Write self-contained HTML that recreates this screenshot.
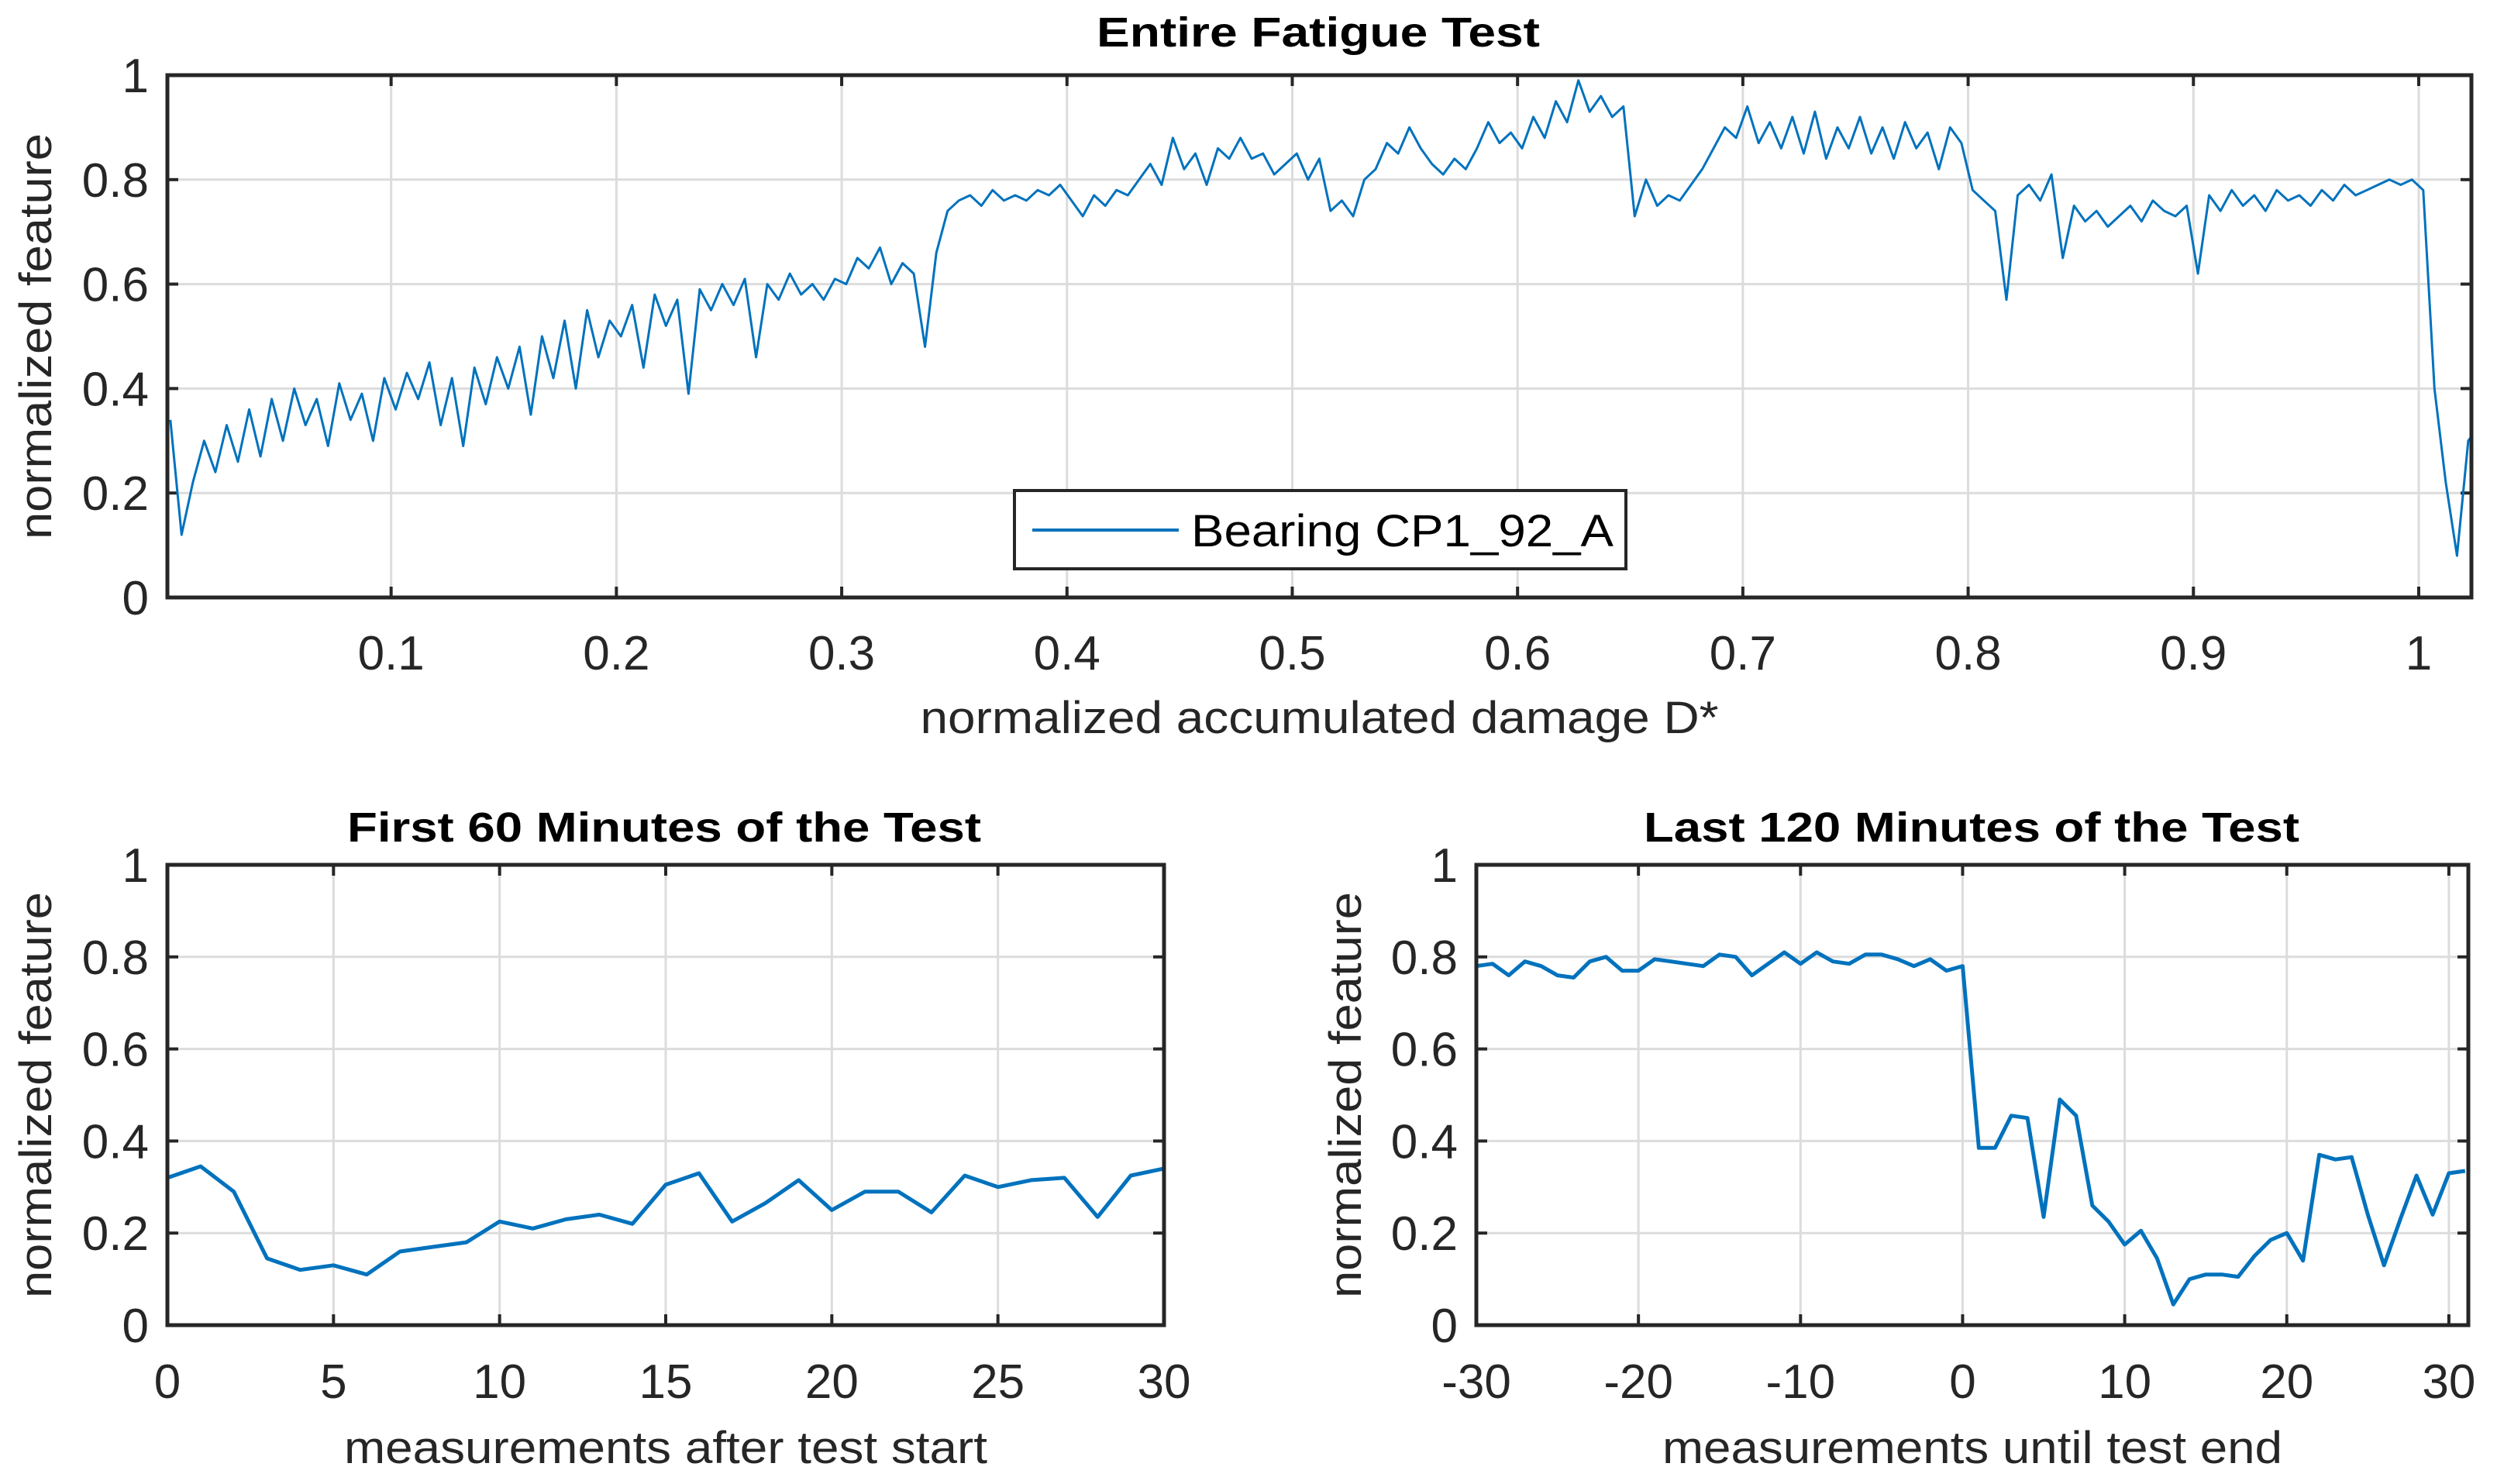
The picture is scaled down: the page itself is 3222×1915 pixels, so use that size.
<!DOCTYPE html>
<html><head><meta charset="utf-8"><style>
html,body{margin:0;padding:0;background:#fff;}
svg{display:block;font-family:"Liberation Sans",Arial,sans-serif;}
</style></head><body>
<svg id="fig" width="3222" height="1915" viewBox="0 0 3222 1915" xmlns="http://www.w3.org/2000/svg"></svg>
<script>
// ---- Data ----
const topStart = 0.002;
const topStep = 0.005;
const topValues = [
0.34,0.12,0.22,0.30,0.24,0.33,0.26,0.36,0.27,0.38,
0.30,0.40,0.33,0.38,0.29,0.41,0.34,0.39,0.30,0.42,
0.36,0.43,0.38,0.45,0.33,0.42,0.29,0.44,0.37,0.46,
0.40,0.48,0.35,0.50,0.42,0.53,0.40,0.55,0.46,0.53,
0.50,0.56,0.44,0.58,0.52,0.57,0.39,0.59,0.55,0.60,
0.56,0.61,0.46,0.60,0.57,0.62,0.58,0.60,0.57,0.61,
0.60,0.65,0.63,0.67,0.60,0.64,0.62,0.48,0.66,0.74,
0.76,0.77,0.75,0.78,0.76,0.77,0.76,0.78,0.77,0.79,
0.76,0.73,0.77,0.75,0.78,0.77,0.80,0.83,0.79,0.88,
0.82,0.85,0.79,0.86,0.84,0.88,0.84,0.85,0.81,0.83,
0.85,0.80,0.84,0.74,0.76,0.73,0.80,0.82,0.87,0.85,
0.90,0.86,0.83,0.81,0.84,0.82,0.86,0.91,0.87,0.89,
0.86,0.92,0.88,0.95,0.91,0.99,0.93,0.96,0.92,0.94,
0.73,0.80,0.75,0.77,0.76,0.79,0.82,0.86,0.90,0.88,
0.94,0.87,0.91,0.86,0.92,0.85,0.93,0.84,0.90,0.86,
0.92,0.85,0.90,0.84,0.91,0.86,0.89,0.82,0.90,0.87,
0.78,0.76,0.74,0.57,0.77,0.79,0.76,0.81,0.65,0.75,
0.72,0.74,0.71,0.73,0.75,0.72,0.76,0.74,0.73,0.75,
0.62,0.77,0.74,0.78,0.75,0.77,0.74,0.78,0.76,0.77,
0.75,0.78,0.76,0.79,0.77,0.78,0.79,0.80,0.79,0.80,
0.78,0.40,0.22,0.08,0.30,0.33
];
const topXTicks = [0.1,0.2,0.3,0.4,0.5,0.6,0.7,0.8,0.9,1];
const topXTickLabels = ["0.1","0.2","0.3","0.4","0.5","0.6","0.7","0.8","0.9","1"];
const yTicks = [0,0.2,0.4,0.6,0.8,1];
const yTickLabels = ["0","0.2","0.4","0.6","0.8","1"];

const firstX = [0,1,2,3,4,5,6,7,8,9,10,11,12,13,14,15,16,17,18,19,20,21,22,23,24,25,26,27,28,29,30];
const firstY = [0.32,0.345,0.29,0.145,0.12,0.13,0.11,0.16,0.17,0.18,0.225,0.21,0.23,0.24,0.22,0.305,0.33,0.225,0.265,0.315,0.25,0.29,0.29,0.245,0.325,0.30,0.315,0.32,0.235,0.325,0.34];
const firstXTicks = [0,5,10,15,20,25,30];
const firstXTickLabels = ["0","5","10","15","20","25","30"];

const lastX = [-30,-29,-28,-27,-26,-25,-24,-23,-22,-21,-20,-19,-18,-17,-16,-15,-14,-13,-12,-11,-10,-9,-8,-7,-6,-5,-4,-3,-2,-1,0,1,2,3,4,5,6,7,8,9,10,11,12,13,14,15,16,17,18,19,20,21,22,23,24,25,26,27,28,29,30,31];
const lastY = [0.78,0.785,0.76,0.79,0.78,0.76,0.755,0.79,0.80,0.77,0.77,0.795,0.79,0.785,0.78,0.805,0.80,0.76,0.785,0.81,0.785,0.81,0.79,0.785,0.805,0.805,0.795,0.78,0.795,0.77,0.78,0.385,0.385,0.455,0.45,0.235,0.49,0.455,0.26,0.225,0.175,0.205,0.145,0.045,0.10,0.11,0.11,0.105,0.15,0.185,0.20,0.14,0.37,0.36,0.365,0.24,0.13,0.23,0.325,0.24,0.33,0.335];
const lastXTicks = [-30,-20,-10,0,10,20,30];
const lastXTickLabels = ["-30","-20","-10","0","10","20","30"];

// ---- Drawing ----
const NS = "http://www.w3.org/2000/svg";
const svgRoot = document.getElementById('fig');
function mk(tag, attrs, parent){
  const e = document.createElementNS(NS, tag);
  for (const k in attrs) e.setAttribute(k, attrs[k]);
  (parent||svgRoot).appendChild(e);
  return e;
}
function txt(str, attrs, parent){ const t = mk('text', attrs, parent); t.textContent = str; return t; }

function axes(cfg){
  const g = mk('g', {});
  
  
  const L=cfg.L,R=cfg.R,T=cfg.T,B=cfg.B,xmin=cfg.xmin,xmax=cfg.xmax;
  const sx = v => L + (v - xmin) / (xmax - xmin) * (R - L);
  const sy = v => B - v * (B - T);
  const grid = mk('g', {stroke:'#dcdcdc','stroke-width':3}, g);
  
  
  cfg.xTicks.forEach(v => mk('line', {x1:sx(v),x2:sx(v),y1:T,y2:B}, grid));
  yTicks.forEach(v => mk('line', {x1:L,x2:R,y1:sy(v),y2:sy(v)}, grid));
  const tk = mk('g', {stroke:'#262626','stroke-width':4}, g);
  cfg.xTicks.forEach(v => { mk('line',{x1:sx(v),x2:sx(v),y1:B,y2:B-14},tk); mk('line',{x1:sx(v),x2:sx(v),y1:T,y2:T+14},tk); });
  yTicks.forEach(v => { mk('line',{x1:L,x2:L+14,y1:sy(v),y2:sy(v)},tk); mk('line',{x1:R,x2:R-14,y1:sy(v),y2:sy(v)},tk); });
  const pts = cfg.xs.map((x,i) => sx(x).toFixed(1) + ',' + sy(cfg.ys[i]).toFixed(1)).join(' ');
  const cp = mk('clipPath', {id:cfg.name+'-clip'}, g);
  mk('rect', {x:L,y:T-6,width:R-L,height:B-T+12}, cp);
  const line = mk('polyline', {points:pts, fill:'none', stroke:'#0072BD', 'stroke-width':cfg.lw, 'stroke-linejoin':'round', 'clip-path':'url(#'+cfg.name+'-clip)'}, g);
  
  
  mk('rect', {x:L,y:T,width:R-L,height:B-T,fill:'none',stroke:'#262626','stroke-width':5}, g);
  const xl = mk('g', {'font-size':62, fill:'#262626','text-anchor':'middle'}, g);
  
  
  cfg.xTicks.forEach((v,i) => txt(cfg.xTickLabels[i], {x:sx(v), y:B+cfg.xtlOff}, xl));
  const yl = mk('g', {'font-size':62, fill:'#262626','text-anchor':'end'}, g);
  
  
  yTicks.forEach((v,i) => txt(yTickLabels[i], {x:L-24, y:sy(v)+22}, yl));
  const ti = txt(cfg.title, {x:cfg.titleX, y:cfg.titleY, 'font-size':54, 'font-weight':'bold', fill:'#000', 'text-anchor':'middle', textLength:cfg.titleW, lengthAdjust:'spacingAndGlyphs'}, g);
  
  
  const xla = txt(cfg.xlabel, {x:(L+R)/2, y:cfg.xlabelY, 'font-size':58, fill:'#262626', 'text-anchor':'middle', textLength:cfg.xlabelW, lengthAdjust:'spacingAndGlyphs'}, g);
  
  
  const yc = (T+B)/2;
  const yla = txt('normalized feature', {x:cfg.ylabelX, y:yc, 'font-size':58, fill:'#262626', 'text-anchor':'middle', textLength:524, lengthAdjust:'spacingAndGlyphs', transform:'rotate(-90 '+cfg.ylabelX+' '+yc+')'}, g);
  
  
  return g;
}

const topXs = topValues.map((_,i) => topStart + i*topStep);
const entireChart = axes({name:'entire-test-chart', L:216,R:3189,T:97,B:771,xmin:0.0007,xmax:1.0234,
  xTicks:topXTicks, xTickLabels:topXTickLabels, xs:topXs, ys:topValues, lw:3,
  xtlOff:93, title:'Entire Fatigue Test', titleX:1701, titleY:60, titleW:572,
  xlabel:'normalized accumulated damage D*', xlabelY:946, xlabelW:1030, ylabelX:66});

const lg = mk('g', {});


mk('rect', {x:1309,y:633,width:789,height:101,fill:'#fff',stroke:'#262626','stroke-width':4}, lg);
const le = mk('line', {x1:1332,x2:1521,y1:684,y2:684,stroke:'#0072BD','stroke-width':4}, lg);


const lt = txt('Bearing CP1_92_A', {x:1537,y:705,'font-size':58,fill:'#000',textLength:545,lengthAdjust:'spacingAndGlyphs'}, lg);



axes({name:'first-60-min-chart', L:216,R:1502,T:1116,B:1710,xmin:0,xmax:30,
  xTicks:firstXTicks, xTickLabels:firstXTickLabels, xs:firstX, ys:firstY, lw:5,
  xtlOff:94, title:'First 60 Minutes of the Test', titleX:857, titleY:1086, titleW:818,
  xlabel:'measurements after test start', xlabelY:1888, xlabelW:830, ylabelX:66});

axes({name:'last-120-min-chart', L:1905,R:3185,T:1116,B:1710,xmin:-30,xmax:31.2,
  xTicks:lastXTicks, xTickLabels:lastXTickLabels, xs:lastX, ys:lastY, lw:5,
  xtlOff:94, title:'Last 120 Minutes of the Test', titleX:2544, titleY:1086, titleW:846,
  xlabel:'measurements until test end', xlabelY:1888, xlabelW:800, ylabelX:1756});
</script>
</body></html>
